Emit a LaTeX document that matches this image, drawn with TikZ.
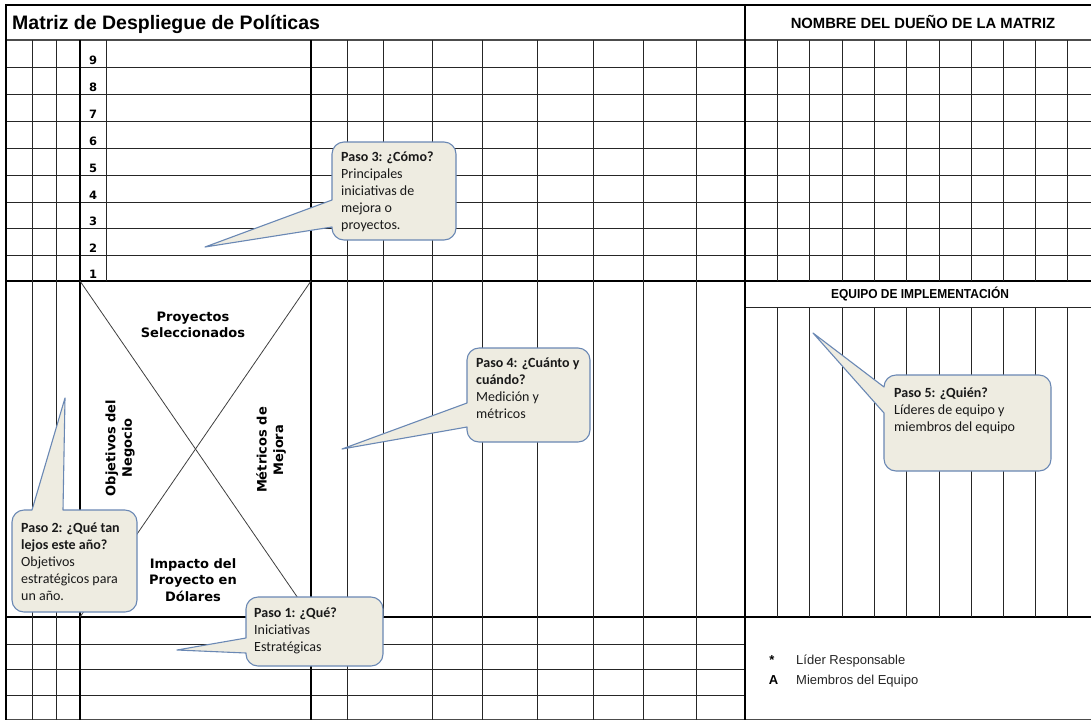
\documentclass[tikz,border=0pt]{standalone}
\usepackage{fontspec}
\usepackage{graphicx}
\setmainfont{Liberation Sans}
\newfontfamily\calfont{Carlito}
\newfontfamily\verfont{DejaVu Sans}
\definecolor{callfill}{HTML}{EEECE1}
\definecolor{callline}{HTML}{6A88B4}

\tikzset{
  thin grid/.style={line width=0.9pt, draw=black!85},
  thick grid/.style={line width=2pt, draw=black},
  callout shape/.style={fill=callfill, draw=callline, line width=1.1pt, line join=round},
  callout text/.style={anchor=north west, inner sep=0pt, align=left,
    font=\calfont\fontsize{14}{17}\selectfont, text=black!90},
  cell label/.style={font=\verfont\bfseries\fontsize{13}{16.5}\selectfont,
    align=center, inner sep=0pt},
  row number/.style={font=\verfont\bfseries\fontsize{11.5}{13}\selectfont,
    anchor=base, inner sep=0pt},
  legend text/.style={font=\fontsize{13}{15}\selectfont, anchor=base west,
    inner sep=0pt, text=black!85},
}

\begin{document}
\begin{tikzpicture}[x=1pt,y=-1pt]
\useasboundingbox[fill=white] (0,0) rectangle (1091,721);

% ---- horizontal rules ----
\draw[thick grid] (5,5) -- (1091,5);
\draw[line width=1.8pt, draw=black!70] (6,40) -- (1091,40);
\foreach \yy in {67,94,121,148,175,202,228,255}
  \draw[thin grid] (6,\yy) -- (1091,\yy);
\draw[thick grid] (6,281) -- (1091,281);
\draw[thin grid] (745,307) -- (1091,307);
\draw[thick grid] (6,617) -- (1091,617);
\foreach \yy in {644,669,695}
  \draw[thin grid] (6,\yy) -- (745,\yy);
\draw[line width=1.2pt, draw=black!70] (6,719.5) -- (1091,719.5);

% ---- vertical rules, left block ----
\draw[thick grid] (6,4) -- (6,720);
\foreach \xx in {32,56}
  \draw[thin grid] (\xx,40) -- (\xx,720);
\draw[thick grid] (80,40) -- (80,720);
\draw[thin grid] (106,40) -- (106,281);
\draw[thick grid] (311,40) -- (311,720);
\draw[thin grid] (383,40) -- (383,617);
\foreach \xx in {347,432,482,537,593,643,696}
  \draw[thin grid] (\xx,40) -- (\xx,720);
\draw[thick grid] (745,4) -- (745,720);

% ---- vertical rules, team block ----
\foreach \xx in {777,809,842,874,906,939,971,1003,1035,1067} {
  \draw[thin grid] (\xx,40) -- (\xx,281);
  \draw[thin grid] (\xx,307) -- (\xx,617);
}

% ---- X of the central cell ----
\draw[line width=0.8pt, draw=black!75] (80,281) -- (311,617);
\draw[line width=0.8pt, draw=black!75] (311,281) -- (80,617);

% ---- headings ----
\node[font=\bfseries\fontsize{19.5}{22}\selectfont, anchor=base west, inner sep=0pt]
  (title) at (12,29.5) {Matriz de Despliegue de Políticas};
\node[font=\bfseries\fontsize{14.8}{16}\selectfont, anchor=base, inner sep=0pt]
  (owner) at (923,28.5) {NOMBRE DEL DUEÑO DE LA MATRIZ};
\node[font=\bfseries\fontsize{13}{15}\selectfont, anchor=base, inner sep=0pt]
  (team) at (920,298) {\scalebox{0.92}[1]{EQUIPO DE IMPLEMENTACIÓN}};

% ---- row numbers ----
\foreach \yb [count=\k] in {67,94,121,148,175,202,228,255,281}
  \node[row number] (n\k) at (93,\yb-3) {\the\numexpr10-\k\relax};

% ---- labels of the central cell ----
\node[cell label] (proy) at (193,325) {Proyectos\\Seleccionados};
\node[cell label] (impacto) at (193,580) {Impacto del\\Proyecto en\\Dólares};
\node[cell label, rotate=90] (objetivos) at (120,448) {Objetivos del\\Negocio};
\node[cell label, rotate=90] (metricos) at (271,450) {Métricos de\\Mejora};

% ---- legend ----
\node[font=\bfseries\fontsize{13}{15}\selectfont, anchor=base, inner sep=0pt]
  (star) at (772,664) {*};
\node[legend text] (lider) at (796,664) {Líder Responsable};
\node[font=\bfseries\fontsize{13}{15}\selectfont, anchor=base, inner sep=0pt]
  (amark) at (773.5,684) {A};
\node[legend text] (miembros) at (796,684) {Miembros del Equipo};

% ---- callouts ----
% Paso 3
\draw[callout shape] (332,200) -- (332,154) arc[start angle=180,end angle=270,radius=12]
  -- (444,142) arc[start angle=270,end angle=360,radius=12]
  -- (456,228) arc[start angle=0,end angle=90,radius=12]
  -- (344,240) arc[start angle=90,end angle=180,radius=12]
  -- (332,227) -- (205,247) -- cycle;
\node[callout text] (paso3) at (341,149)
  {\rule{0pt}{12pt}\textbf{Paso 3: ¿Cómo?}\\Principales\\iniciativas de\\mejora o\\proyectos.};

% Paso 4
\draw[callout shape] (467,403) -- (467,360) arc[start angle=180,end angle=270,radius=12]
  -- (578,348) arc[start angle=270,end angle=360,radius=12]
  -- (590,430) arc[start angle=0,end angle=90,radius=12]
  -- (479,442) arc[start angle=90,end angle=180,radius=12]
  -- (467,427) -- (342,449) -- cycle;
\node[callout text] (paso4) at (476,355)
  {\rule{0pt}{12pt}\textbf{Paso 4: ¿Cuánto y}\\\textbf{cuándo?}\\Medición y\\métricos};

% Paso 5
\draw[callout shape] (884,387) arc[start angle=180,end angle=270,radius=12]
  -- (1039,375) arc[start angle=270,end angle=360,radius=12]
  -- (1051,459) arc[start angle=0,end angle=90,radius=12]
  -- (896,471) arc[start angle=90,end angle=180,radius=12]
  -- (884,413) -- (813,333) -- cycle;
\node[callout text] (paso5) at (894,385)
  {\rule{0pt}{12pt}\textbf{Paso 5: ¿Quién?}\\Líderes de equipo y\\miembros del equipo};

% Paso 2
\draw[callout shape] (32,510) -- (65,398) -- (63,510)
  -- (125,510) arc[start angle=270,end angle=360,radius=12]
  -- (137,600) arc[start angle=0,end angle=90,radius=12]
  -- (24,612) arc[start angle=90,end angle=180,radius=12]
  -- (12,522) arc[start angle=180,end angle=270,radius=12]
  -- cycle;
\node[callout text] (paso2) at (21,520)
  {\rule{0pt}{12pt}\textbf{Paso 2: ¿Qué tan}\\\textbf{lejos este año?}\\Objetivos\\estratégicos para\\un año.};

% Paso 1
\draw[callout shape] (246,638) -- (246,609) arc[start angle=180,end angle=270,radius=12]
  -- (371,597) arc[start angle=270,end angle=360,radius=12]
  -- (383,654) arc[start angle=0,end angle=90,radius=12]
  -- (258,666) arc[start angle=90,end angle=180,radius=12]
  -- (246,653) -- (177,650) -- cycle;
\node[callout text] (paso1) at (254,605)
  {\rule{0pt}{12pt}\textbf{Paso 1: ¿Qué?}\\Iniciativas\\Estratégicas};

\end{tikzpicture}
\end{document}
